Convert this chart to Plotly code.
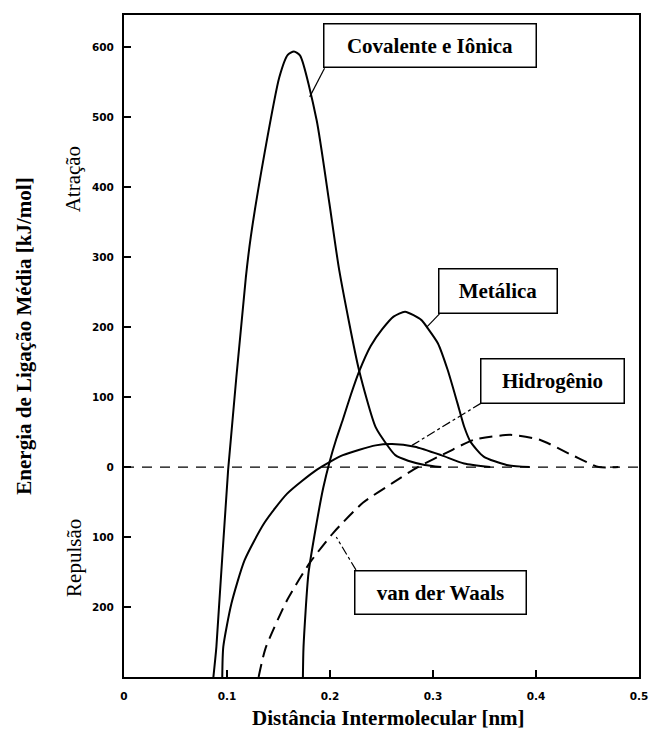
import plotly.graph_objects as go

# ---- data ----
cov_x = [0.0868, 0.0897, 0.1011, 0.1183, 0.1231, 0.1365, 0.1508, 0.159, 0.165, 0.171,
         0.187, 0.1994, 0.209, 0.2281, 0.2443, 0.2567, 0.2634, 0.2758, 0.292, 0.308]
cov_y = [-300, -257, -4, 271, 329, 449, 557, 589, 594, 588,
         496, 377, 281, 139, 57, 29, 17, 9, 3, 0]

met_x = [0.1737, 0.1743, 0.1791, 0.187, 0.1934, 0.1997, 0.2061, 0.2125, 0.2204, 0.2284,
         0.2395, 0.2507, 0.2617, 0.2729, 0.2888, 0.2951, 0.3047, 0.3142, 0.3238, 0.3302,
         0.3365, 0.3492, 0.3715, 0.3938]
met_y = [-300, -257, -152, -80, -30, 8, 40, 68, 104, 137,
         173, 197, 215, 222, 210, 198, 177, 139, 91, 58,
         36, 15, 3, 0]

hid_x = [0.0954, 0.0964, 0.1043, 0.1171, 0.1362, 0.1584, 0.187, 0.2125, 0.2443, 0.2602,
         0.2824, 0.3079, 0.3302, 0.3556]
hid_y = [-300, -257, -195, -133, -80, -38, -4, 17, 31, 33,
         29, 17, 5, 0]

vdw_x = [0.1307, 0.1374, 0.1584, 0.1803, 0.2032, 0.2319, 0.2605, 0.2853, 0.3139, 0.3397,
         0.375, 0.4036, 0.4351, 0.4609, 0.48]
vdw_y = [-300, -259, -190, -137, -94, -51, -23, 0, 21, 39,
         46, 39, 17, 0, 0]

zero_x = [0.0, 0.5]
zero_y = [0, 0]

x_tickvals = [0, 0.1, 0.2, 0.3, 0.4, 0.5]
x_ticktext = ["0", "0.1", "0.2", "0.3", "0.4", "0.5"]
y_tickvals = [600, 500, 400, 300, 200, 100, 0, -100, -200]
y_ticktext = ["600", "500", "400", "300", "200", "100", "0", "100", "200"]

labels = ["Covalente e Iônica", "Metálica", "Hidrogênio", "van der Waals"]

# ---- figure ----
SERIF = "Liberation Serif, Times New Roman, serif"
fig = go.Figure()

fig.add_trace(go.Scatter(x=zero_x, y=zero_y, mode="lines",
                         line=dict(color="black", width=1.3, dash="10px,8px"),
                         hoverinfo="skip"))
solid = dict(color="black", width=2, shape="spline", smoothing=0.6)
fig.add_trace(go.Scatter(x=cov_x, y=cov_y, mode="lines", line=solid, name=labels[0]))
fig.add_trace(go.Scatter(x=met_x, y=met_y, mode="lines", line=solid, name=labels[1]))
fig.add_trace(go.Scatter(x=hid_x, y=hid_y, mode="lines", line=solid, name=labels[2]))
fig.add_trace(go.Scatter(x=vdw_x, y=vdw_y, mode="lines",
                         line=dict(color="black", width=2, dash="13px,7px",
                                   shape="spline", smoothing=0.6),
                         name=labels[3]))

# label boxes (centre x, centre y, width px, height px)
boxes = [(0.2968, 602, 214, 45), (0.3635, 251, 120, 46),
         (0.4156, 123, 145, 46), (0.3077, -179, 173, 45)]
for lab, (bx, by, bw, bh) in zip(labels, boxes):
    fig.add_annotation(x=bx, y=by, xref="x", yref="y", text="<b>%s</b>" % lab,
                       showarrow=False, width=bw - 3, height=bh - 3,
                       xanchor="center", yanchor="middle",
                       bordercolor="black", borderwidth=1.5, borderpad=0,
                       bgcolor="white", font=dict(family=SERIF, size=21, color="black"))

# leader lines
leaders = [((0.1947, 570), (0.1803, 529), "solid"),
           ((0.3063, 219), (0.2939, 200), "solid"),
           ((0.3464, 91), (0.2796, 31), "dashdot"),
           ((0.2252, -147), (0.2061, -100), "dashdot")]
for (x0, y0), (x1, y1), d in leaders:
    fig.add_shape(type="line", xref="x", yref="y", x0=x0, y0=y0, x1=x1, y1=y1,
                  line=dict(color="black", width=1.2, dash=d))

# axis titles and side labels
fig.add_annotation(xref="paper", yref="paper", x=0.513, y=-0.062,
                   xanchor="center", yanchor="middle",
                   text="<b>Distância Intermolecular [nm]</b>", showarrow=False,
                   font=dict(family=SERIF, size=21, color="black"))
fig.add_annotation(xref="paper", yref="paper", x=-0.195, y=0.515, textangle=-90,
                   xanchor="center", yanchor="middle",
                   text="<b>Energia de Ligação Média [kJ/mol]</b>", showarrow=False,
                   font=dict(family=SERIF, size=21, color="black"))
fig.add_annotation(xref="paper", yref="paper", x=-0.1, y=0.751, textangle=-90,
                   xanchor="center", yanchor="middle",
                   text="Atração", showarrow=False,
                   font=dict(family=SERIF, size=21, color="black"))
fig.add_annotation(xref="paper", yref="paper", x=-0.097, y=0.18, textangle=-90,
                   xanchor="center", yanchor="middle",
                   text="Repulsão", showarrow=False,
                   font=dict(family=SERIF, size=21, color="black"))

tickfont = dict(family="DejaVu Sans, sans-serif", size=10.5, color="black", weight="bold")
fig.update_xaxes(range=[0, 0.5], tickvals=x_tickvals, ticktext=x_ticktext,
                 ticks="inside", ticklen=7, tickwidth=1.5, tickcolor="black",
                 showline=True, linecolor="black", linewidth=2, mirror=True,
                 showgrid=False, zeroline=False, tickfont=tickfont,
                 ticklabelstandoff=8)
fig.update_yaxes(range=[-300, 646], tickvals=y_tickvals, ticktext=y_ticktext,
                 ticks="inside", ticklen=7, tickwidth=1.5, tickcolor="black",
                 showline=True, linecolor="black", linewidth=2, mirror=True,
                 showgrid=False, zeroline=False, tickfont=tickfont,
                 ticklabelstandoff=6)
fig.update_layout(width=659, height=740, autosize=False,
                  margin=dict(l=124, r=11, t=15, b=63),
                  paper_bgcolor="white", plot_bgcolor="white", showlegend=False)

fig.write_html("out.html")
